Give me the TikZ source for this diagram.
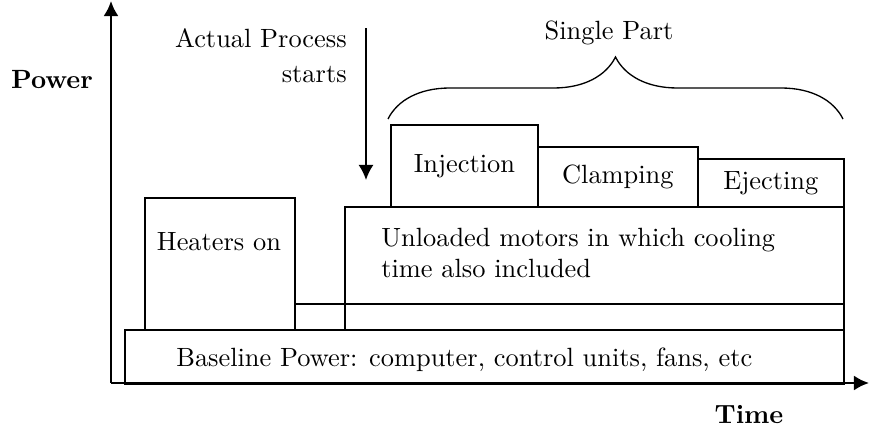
\documentclass[tikz,border=0pt]{standalone}
\usetikzlibrary{positioning,arrows.meta,decorations.pathreplacing}
\tikzset{
    stage-box/.style = {draw, line width=0.7pt, rectangle, inner sep=0pt, anchor=north west},
    axis-line/.style = {line width=0.9pt, -{Latex[length=5.7pt,width=5.7pt]}},
    axis-label/.style = {font=\bfseries, anchor=base},
}

\begin{document}
\begin{tikzpicture}[x=0.379pt, y=-0.379pt]
\useasboundingbox (0,0) rectangle (870,430);
\coordinate (origin) at (111,383);
\coordinate (y-end) at (111,1);
\coordinate (x-end) at (869,383);
\draw[axis-line] (origin) -- (y-end);
\draw[axis-line] (origin) -- (x-end);
\node[axis-label] (power) at (52,89) {Power};
\node[axis-label] (time) at (749,423) {Time};

\node[stage-box, minimum width=272.5pt, minimum height=20.5pt] (base) at (124,329) {};
\node[anchor=base west] (base-text) at (167,367) {Baseline Power: computer, control units, fans, etc};
\node[stage-box, minimum width=56.9pt, minimum height=50pt] (heat) at (144,197) {};
\node[anchor=base] (heat-text) at (219,250) {Heaters on};
\node[stage-box, minimum width=208.1pt, minimum height=9.9pt] (idle) at (294,303) {};
\node[stage-box, minimum width=189.1pt, minimum height=46.6pt] (motor) at (344,206) {};
\node[anchor=west, align=left] (motor-text) at (372,253) {Unloaded motors in which cooling\\time also included};
\node[stage-box, minimum width=55.7pt, minimum height=31.1pt] (inj) at (390,124) {Injection};
\node[stage-box, minimum width=60.6pt, minimum height=22.7pt] (clamp) at (537,146) {Clamping};
\node[stage-box, minimum width=55.3pt, minimum height=18.2pt] (eject) at (697,158) {Ejecting};

\node[anchor=east, align=right] (start-text) at (356,56) {Actual Process\\[1.3pt]starts};
\coordinate (start-top) at (366,28);
\coordinate (start-tip) at (366,180);
\draw[line width=0.7pt, -{Latex[length=5.7pt,width=5.7pt]}] (start-top) -- (start-tip);

\coordinate (brace-left) at (388,119);
\coordinate (brace-right) at (843,119);
\draw[decorate, decoration={brace, amplitude=23.5pt}, line width=0.5pt] (brace-left) -- (brace-right);
\node[anchor=base] (part-label) at (609,40) {Single Part};
\end{tikzpicture}
\end{document}
